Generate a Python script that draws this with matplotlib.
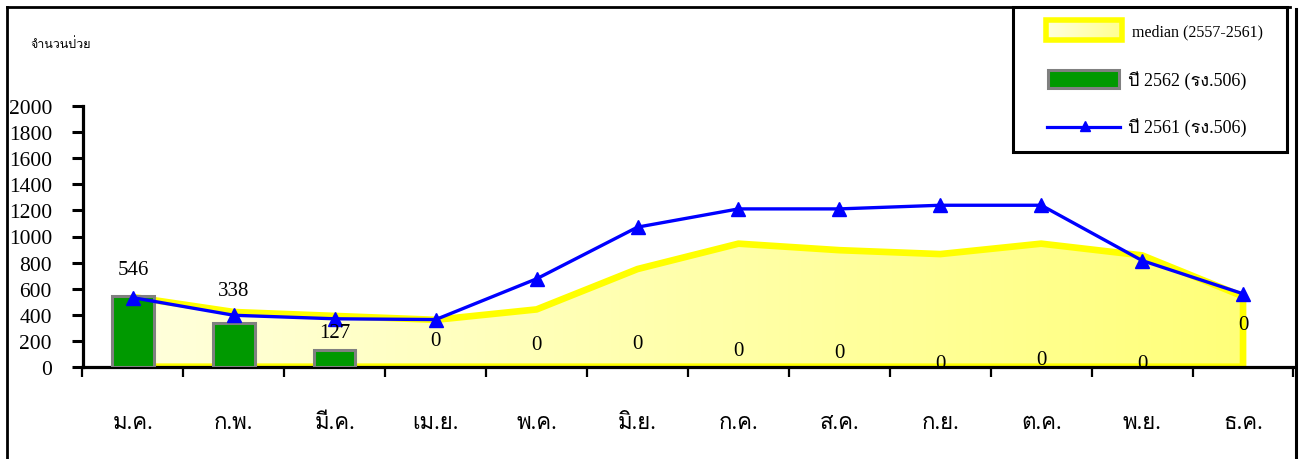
import numpy as np
import matplotlib
matplotlib.use("Agg")
import matplotlib.pyplot as plt
from matplotlib import font_manager
from matplotlib.ft2font import FT2Font
from matplotlib.patches import Rectangle, Polygon
from matplotlib.lines import Line2D
from matplotlib.colors import LinearSegmentedColormap

# ---------------- data ----------------
months = ["ม.ค.", "ก.พ.", "มี.ค.", "เม.ย.", "พ.ค.", "มิ.ย.",
          "ก.ค.", "ส.ค.", "ก.ย.", "ต.ค.", "พ.ย.", "ธ.ค."]
median_2557_2561 = [535, 420, 390, 360, 440, 750, 945, 895, 865, 945, 855, 540]
cases_2562 = [546, 338, 127, 0, 0, 0, 0, 0, 0, 0, 0, 0]
cases_2561 = [530, 395, 368, 362, 675, 1072, 1212, 1212, 1240, 1240, 815, 560]
yticks = list(range(0, 2001, 200))
legend_labels = ["median (2557-2561)", "ปี 2562 (รง.506)", "ปี 2561 (รง.506)"]
ylabel = "จำนวนป่วย"

# layout: heights (data units) where the value labels of 2562 sit
label_heights = [750, 584, 266, 200, 169, 175, 123, 111, 21, 59, 28, 327]

# ---------------- fonts ----------------
def find_thai_font():
    prefs = ["Norasi", "Kinnari", "Laksaman", "Garuda", "Loma", "Umpush",
             "Sawasdee", "Noto Serif Thai", "Noto Sans Thai Looped",
             "Noto Sans Thai", "TlwgTypo"]
    found = set()
    for f in font_manager.fontManager.ttflist:
        try:
            cm = FT2Font(f.fname).get_charmap()
        except Exception:
            continue
        if 0x0E04 in cm and 0x0E21 in cm:
            found.add(f.name)
    for p in prefs:
        if p in found:
            return p
    return sorted(found)[0] if found else None

thai = find_thai_font()
LATIN = "Liberation Serif"
FAM = [LATIN] + ([thai] if thai else []) + ["DejaVu Sans"]
plt.rcParams["font.family"] = FAM

W, H = 1302, 460
fig = plt.figure(figsize=(W / 100, H / 100), dpi=100)
fig.patch.set_facecolor("white")

def fx(px):
    return px / W

def fy(py):
    return 1 - py / H

# ---------------- axes ----------------
x0, x1 = 82.5, 1293.5
y0, y1 = 367.7, 107.3
ax = fig.add_axes([fx(x0), fy(y0), (x1 - x0) / W, (y0 - y1) / H])
ax.set_facecolor("none")

x = np.arange(len(months))

# median area with horizontal gradient
verts = [(0, 0)] + list(zip(x, median_2557_2561)) + [(x[-1], 0)]
clip_poly = Polygon(verts, closed=True, transform=ax.transData, facecolor="none", edgecolor="none")
ax.add_patch(clip_poly)
cmap = LinearSegmentedColormap.from_list("yel", ["#FFFFDC", "#FFFF7A"])
im = ax.imshow(np.linspace(0, 1, 256)[None, :], extent=[0, x[-1], 0, 2000],
               aspect="auto", cmap=cmap, zorder=1, interpolation="bilinear")
im.set_clip_path(clip_poly)
ax.add_patch(Polygon(verts, closed=True, fill=False, edgecolor="#FFFF00",
                     linewidth=4.8, zorder=2, joinstyle="round"))

# bars
lws = [2.2 if v > 0 else 0 for v in cases_2562]
ax.bar(x, cases_2562, width=0.41, color="#009900", edgecolor="#808080",
       linewidth=lws, zorder=3)

# 2561 line
ax.plot(x, cases_2561, color="#0000FF", linewidth=2.4, marker="^",
        markersize=10.5, zorder=4)

# value labels
for i, v in enumerate(cases_2562):
    ax.text(i, label_heights[i], str(v), ha="center", va="center",
            fontsize=15, family=FAM, zorder=5)

ax.set_xlim(-0.5, 11.5)
ax.set_ylim(0, 2000)
for s in ["top", "right"]:
    ax.spines[s].set_visible(False)
for s in ["left", "bottom"]:
    ax.spines[s].set_linewidth(2.3)
    ax.spines[s].set_color("black")

ax.set_yticks(yticks)
ax.set_yticklabels([str(t) for t in yticks])
ax.tick_params(axis="y", direction="out", length=8, width=2.2, pad=14,
               labelsize=15.5, color="black")

ax.set_xticks(np.arange(-0.5, 12, 1))
ax.set_xticklabels([])
ax.tick_params(axis="x", which="major", direction="out", length=7.5, width=1.6)
ax.set_xticks(x, minor=True)
ax.set_xticklabels(months, minor=True)
ax.tick_params(axis="x", which="minor", length=0, pad=44, labelsize=16)
for lbl in ax.get_xticklabels(minor=True):
    lbl.set_va("baseline")

# ---------------- y label ----------------
fig.text(fx(30), fy(45), ylabel, fontsize=9, ha="left", va="center", family=FAM)

# ---------------- legend ----------------
fig.add_artist(Rectangle((fx(1013), fy(153)), fx(1287) - fx(1013), fy(8) - fy(153),
                         transform=fig.transFigure, fill=False, edgecolor="black",
                         linewidth=2.2, zorder=10))
# entry 1: gradient patch
lax = fig.add_axes([fx(1045.5), fy(40.5), fx(1121.5) - fx(1045.5), fy(20.5) - fy(40.5)])
lax.imshow(np.linspace(0, 1, 64)[None, :], aspect="auto",
           cmap=LinearSegmentedColormap.from_list("yl2", ["#FFFFE0", "#FFFF90"]))
lax.set_axis_off()
fig.add_artist(Rectangle((fx(1045.5), fy(40.5)), fx(1121.5) - fx(1045.5), fy(20.5) - fy(40.5),
                         transform=fig.transFigure, fill=False, edgecolor="#FFFF00",
                         linewidth=4.0, zorder=11))
fig.text(fx(1132), fy(32), legend_labels[0], fontsize=11.5, ha="left", va="center", family=FAM)
# entry 2
fig.add_artist(Rectangle((fx(1047.5), fy(89)), fx(1119) - fx(1047.5), fy(70.5) - fy(89),
                         transform=fig.transFigure, facecolor="#009900", edgecolor="#808080",
                         linewidth=2.2, zorder=11))
fig.text(fx(1128), fy(81), legend_labels[1], fontsize=13, ha="left", va="center", family=FAM)
# entry 3
fig.add_artist(Line2D([fx(1047), fx(1120)], [fy(128.3), fy(128.3)], transform=fig.transFigure,
                      color="#0000FF", linewidth=2.3, zorder=11))
fig.add_artist(Line2D([fx(1085)], [fy(127)], transform=fig.transFigure, color="#0000FF",
                      marker="^", markersize=7, linestyle="none", zorder=12))
fig.text(fx(1128), fy(128), legend_labels[2], fontsize=13, ha="left", va="center", family=FAM)

# ---------------- outer frame ----------------
fig.add_artist(Line2D([fx(7), fx(7)], [fy(8), fy(462)], transform=fig.transFigure,
                      color="black", linewidth=2.0))
fig.add_artist(Line2D([fx(7), fx(1290)], [fy(8), fy(8)], transform=fig.transFigure,
                      color="black", linewidth=2.0))
fig.add_artist(Line2D([fx(1295.7), fx(1295.7)], [fy(10), fy(462)], transform=fig.transFigure,
                      color="black", linewidth=2.2))

fig.savefig("out.png", dpi=100, facecolor="white")
